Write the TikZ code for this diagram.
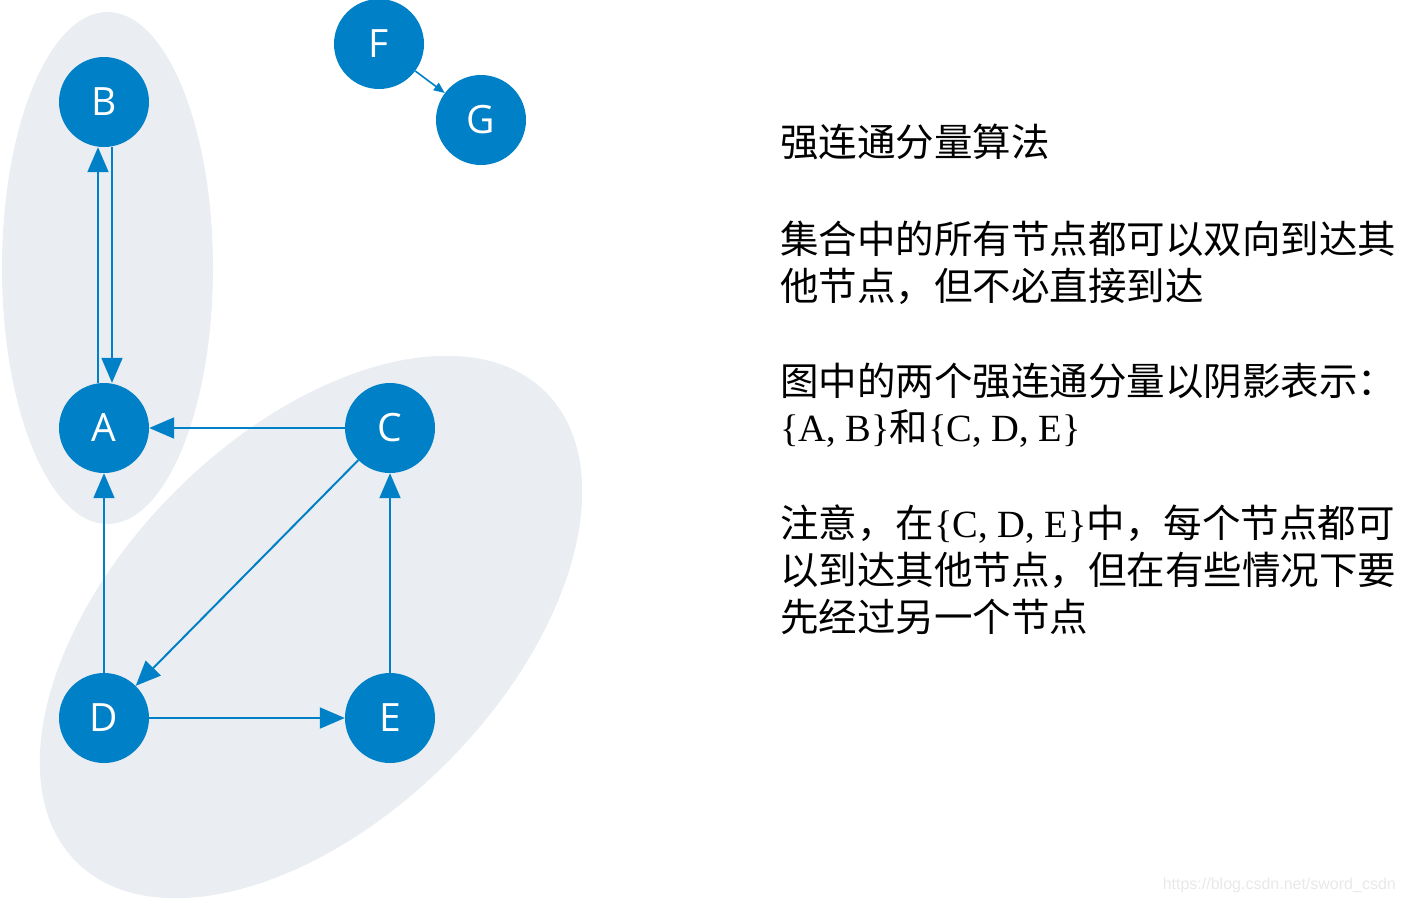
\documentclass[tikz,border=0pt]{standalone}
\usepackage{fontspec}
\setmainfont{Liberation Serif}
\newfontfamily\cjk{Noto Sans CJK SC}
\newfontfamily\nodefont{Open Sans}
\newfontfamily\wmfont{Liberation Sans}
\usetikzlibrary{arrows.meta,calc}
\definecolor{nodeblue}{RGB}{0,128,198}
\definecolor{sccgray}{RGB}{234,237,241}
\begin{document}
\begin{tikzpicture}[x=1pt,y=-1pt,
  vert/.style={circle, fill=nodeblue, minimum size=90pt, inner sep=0pt, text=white, font=\nodefont\fontsize{39}{39}\selectfont},
  edge/.style={draw=nodeblue, line width=2pt, -{Triangle[length=25pt,width=21pt]}},
  smalledge/.style={draw=nodeblue, line width=1.6pt, -{Triangle[length=11pt,width=9pt]}},
  txtline/.style={anchor=west, inner sep=0pt, text height=0.88em, text depth=0.12em, font=\fontsize{38.5}{46}\selectfont}
]
\useasboundingbox (0,0) rectangle (1404,903);
\fill[sccgray] (107.5,268) ellipse [x radius=105.5pt, y radius=256pt];
\fill[sccgray, shift={(311,627)}, rotate=45] (0,0) ellipse [x radius=332pt, y radius=192pt];

\node[vert] (B) at (104,102) {B};
\node[vert] (A) at (104,428) {A};
\node[vert] (C) at (390,428) {C};
\node[vert] (D) at (104,718) {D};
\node[vert] (E) at (390,718) {E};
\node[vert] (F) at (379,44) {F};
\node[vert] (G) at (481,120) {G};

\draw[edge] ([xshift=-6pt]A.north) -- ([xshift=-6pt]B.south);
\draw[edge] ([xshift=8pt]B.south) -- ([xshift=8pt]A.north);
\draw[edge] (C) -- (A);
\draw[edge] (D) -- (A);
\draw[edge] (E) -- (C);
\draw[edge] (D) -- (E);
\draw[edge] (C) -- (D);
\draw[smalledge] (F) -- (G);

\node[txtline] (t1) at (780,153) {\cjk 强连通分量算法};
\node[txtline] (t2) at (780,250) {\cjk 集合中的所有节点都可以双向到达其};
\node[txtline] (t3) at (780,297) {\cjk 他节点，但不必直接到达};
\node[txtline] (t4) at (780,392) {\cjk 图中的两个强连通分量以阴影表示：};
\node[txtline] (t5) at (780,438) {\{A, B\}{\cjk 和}\{C, D, E\}};
\node[txtline] (t6) at (780,534) {{\cjk 注意，在}\{C, D, E\}{\cjk 中，每个节点都可}};
\node[txtline] (t7) at (780,581) {\cjk 以到达其他节点，但在有些情况下要};
\node[txtline] (t8) at (780,628) {\cjk 先经过另一个节点};

\node[anchor=east, inner sep=0pt, text=black!9, font=\wmfont\fontsize{16}{16}\selectfont] (wm) at (1396,885) {https://blog.csdn.net/sword\_csdn};
\end{tikzpicture}
\end{document}
